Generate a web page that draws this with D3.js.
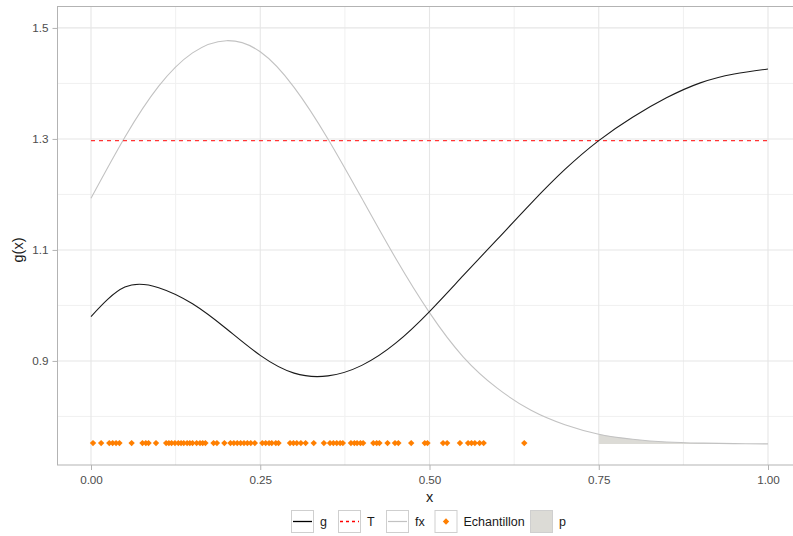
<!DOCTYPE html>
<html><head><meta charset="utf-8">
<script src="https://cdn.jsdelivr.net/npm/d3@7"></script>
<style>body{margin:0;background:#fff}svg{display:block}</style>
</head><body><svg id="c" width="793" height="536"></svg>
<script>
// ---- data ----
const xs  = [0, 0.05, 0.10, 0.15, 0.20, 0.25, 0.30, 0.35, 0.40, 0.45, 0.50, 0.55, 0.60, 0.65, 0.70, 0.75, 0.80, 0.85, 0.90, 0.95, 1.00];
const gY  = [0.980, 1.033, 1.032, 1.003, 0.958, 0.910, 0.878, 0.873, 0.892, 0.932, 0.989, 1.054, 1.119, 1.184, 1.245, 1.297, 1.339, 1.374, 1.401, 1.417, 1.426];
const fxY = [1.193, 1.303, 1.395, 1.455, 1.477, 1.457, 1.393, 1.300, 1.193, 1.085, 0.987, 0.907, 0.851, 0.811, 0.785, 0.768, 0.759, 0.754, 0.752, 0.751, 0.7505];
const T = 1.297;
const pFrom = 0.75, pBase = 0.7505;
const sampleY = 0.752;
const sampleX = [0.003,0.015,0.027,0.032,0.037,0.042,0.060,0.076,0.081,0.085,0.096,0.111,0.115,0.119,0.124,0.129,0.133,0.137,0.142,0.146,0.150,0.156,0.161,0.165,0.169,0.181,0.186,0.197,0.206,0.211,0.216,0.221,0.226,0.231,0.236,0.242,0.253,0.258,0.263,0.267,0.273,0.277,0.294,0.299,0.304,0.310,0.317,0.329,0.344,0.353,0.358,0.363,0.368,0.372,0.384,0.389,0.393,0.398,0.402,0.417,0.422,0.426,0.438,0.449,0.454,0.473,0.493,0.497,0.520,0.526,0.545,0.557,0.562,0.567,0.574,0.580,0.640];
const xTicks = [0, 0.25, 0.5, 0.75, 1];
const xMinor = [0.125, 0.375, 0.625, 0.875];
const yTicks = [0.9, 1.1, 1.3, 1.5];
const yMinor = [0.8, 1.0, 1.2, 1.4];
const legendLabels = ["g", "T", "fx", "Echantillon", "p"];

// ---- drawing ----
const svg = d3.select("#c");
const x = d3.scaleLinear().domain([-0.05, 1.05]).range([57.15, 801.85]);
const y = d3.scaleLinear().domain([0.7125, 1.5395]).range([465, 6]);
const font = "'Liberation Sans', Arial, sans-serif";
const pL = 57.5, pT = 6.5, pB = 465, pR = 802;
const curve = d3.curveNatural;

const grid = svg.append("g");
xMinor.forEach(v => grid.append("line").attr("x1", x(v)).attr("x2", x(v)).attr("y1", pT).attr("y2", pB).attr("stroke", "#f0f0f0").attr("stroke-width", 1));
yMinor.forEach(v => grid.append("line").attr("y1", y(v)).attr("y2", y(v)).attr("x1", pL).attr("x2", pR).attr("stroke", "#f0f0f0").attr("stroke-width", 1));
xTicks.forEach(v => grid.append("line").attr("x1", x(v)).attr("x2", x(v)).attr("y1", pT).attr("y2", pB).attr("stroke", "#e6e6e6").attr("stroke-width", 1.1));
yTicks.forEach(v => grid.append("line").attr("y1", y(v)).attr("y2", y(v)).attr("x1", pL).attr("x2", pR).attr("stroke", "#e6e6e6").attr("stroke-width", 1.1));

// ribbon p
const fxPts = xs.map((v, i) => [v, fxY[i]]);
const pts = fxPts.filter(d => d[0] >= pFrom);
svg.append("path").datum(pts)
  .attr("d", d3.area().x(d => x(d[0])).y0(y(pBase)).y1(d => y(d[1])).curve(curve))
  .attr("fill", "#dcdbd6");

// fx
svg.append("path").datum(fxPts)
  .attr("d", d3.line().x(d => x(d[0])).y(d => y(d[1])).curve(curve))
  .attr("fill", "none").attr("stroke", "#c2c2c2").attr("stroke-width", 1.1);

// T
svg.append("line").attr("x1", x(0)).attr("x2", x(1)).attr("y1", y(T)).attr("y2", y(T))
  .attr("stroke", "#ff3333").attr("stroke-width", 1.2).attr("stroke-dasharray", "4,4");

// g
svg.append("path").datum(xs.map((v, i) => [v, gY[i]]))
  .attr("d", d3.line().x(d => x(d[0])).y(d => y(d[1])).curve(curve))
  .attr("fill", "none").attr("stroke", "#1a1a1a").attr("stroke-width", 1.1);

// samples
const diamond = "M0,-3.2L3.2,0L0,3.2L-3.2,0Z";
svg.append("g").selectAll("path").data(sampleX).join("path")
  .attr("transform", d => `translate(${x(d)},${y(sampleY)})`)
  .attr("d", diamond).attr("fill", "#ff7f00");

// panel border
svg.append("rect").attr("x", pL).attr("y", pT).attr("width", pR - pL).attr("height", pB - pT)
  .attr("fill", "none").attr("stroke", "#b3b3b3").attr("stroke-width", 1);

// axes
const xa = svg.append("g").attr("transform", `translate(0,${pB})`)
  .call(d3.axisBottom(x).tickValues(xTicks).tickFormat(d3.format(".2f")).tickSize(5).tickPadding(6));
const ya = svg.append("g").attr("transform", `translate(${pL},0)`)
  .call(d3.axisLeft(y).tickValues(yTicks).tickFormat(d3.format(".1f")).tickSize(5).tickPadding(4));
[xa, ya].forEach(a => {
  a.select(".domain").remove();
  a.selectAll(".tick line").attr("stroke", "#b3b3b3");
  a.selectAll("text").attr("fill", "#4d4d4d").attr("font-family", font).attr("font-size", "11.7px");
});

svg.append("text").attr("x", x(0.5)).attr("y", 502).attr("text-anchor", "middle")
  .attr("font-family", font).attr("font-size", "14.5px").attr("fill", "#1a1a1a").text("x");
svg.append("text").attr("transform", "translate(23,250) rotate(-90)").attr("text-anchor", "middle")
  .attr("font-family", font).attr("font-size", "14.5px").attr("fill", "#1a1a1a").text("g(x)");

// legend
const keyX = [291, 338, 386, 434.5, 530];
const lg = svg.append("g");
const ky = 510, ks = 23;
legendLabels.forEach((lab, i) => {
  const kx = keyX[i];
  lg.append("rect").attr("x", kx + 0.5).attr("y", ky + 0.5).attr("width", ks - 1).attr("height", ks - 1)
    .attr("fill", i === 4 ? "#dcdbd6" : "#fff").attr("stroke", "#cfcfcf").attr("stroke-width", 1);
  const cy = ky + ks / 2;
  if (i === 0) lg.append("line").attr("x1", kx + 2).attr("x2", kx + ks - 2).attr("y1", cy).attr("y2", cy).attr("stroke", "#000").attr("stroke-width", 1.3);
  if (i === 1) lg.append("line").attr("x1", kx + 2).attr("x2", kx + ks - 2).attr("y1", cy).attr("y2", cy).attr("stroke", "#ff0000").attr("stroke-width", 1.4).attr("stroke-dasharray", "3,3");
  if (i === 2) lg.append("line").attr("x1", kx + 2).attr("x2", kx + ks - 2).attr("y1", cy).attr("y2", cy).attr("stroke", "#c2c2c2").attr("stroke-width", 1.2);
  if (i === 3) lg.append("path").attr("transform", `translate(${kx + ks / 2},${cy})`).attr("d", diamond).attr("fill", "#ff7f00");
  lg.append("text").attr("x", kx + ks + 6).attr("y", cy + 4.5).attr("font-family", font).attr("font-size", "12.5px")
    .attr("fill", "#1a1a1a").text(lab);
});
</script></body></html>
